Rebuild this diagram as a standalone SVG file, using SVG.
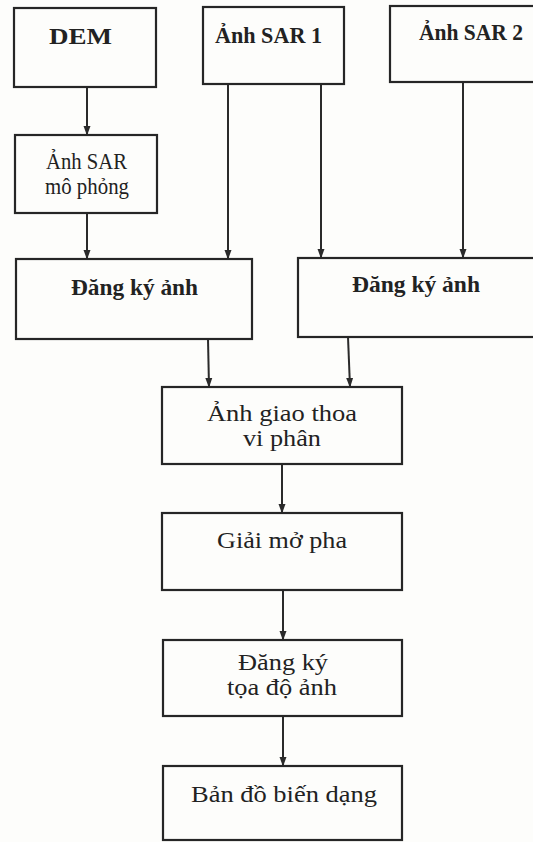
<svg xmlns="http://www.w3.org/2000/svg" width="533" height="842" viewBox="0 0 533 842">
<defs>
<style>
.box{fill:#fdfdfb;stroke:#262626;stroke-width:2.2}
.t{font-family:"Liberation Serif","Times New Roman",serif;fill:#222;text-anchor:start}
.b{font-weight:bold;font-size:23px}
.r{font-size:23px}
.c{stroke:#2a2a2a;stroke-width:2;fill:none}
</style>
<marker id="arr" markerWidth="10" markerHeight="14" refX="13" refY="5" orient="auto" markerUnits="userSpaceOnUse" viewBox="0 0 14 10">
<path d="M0,0 L14,5 L0,10 Z" fill="#2a2a2a"/>
</marker>
</defs>
<rect width="533" height="842" fill="#fdfdfb"/>
<g id="connectors">
<line class="c" x1="87" y1="87" x2="87" y2="135" marker-end="url(#arr)"/>
<line class="c" x1="87" y1="213" x2="87" y2="259" marker-end="url(#arr)"/>
<line class="c" x1="228" y1="84" x2="228" y2="259" marker-end="url(#arr)"/>
<line class="c" x1="321" y1="84" x2="321" y2="258" marker-end="url(#arr)"/>
<line class="c" x1="463" y1="82" x2="463" y2="258" marker-end="url(#arr)"/>
<line class="c" x1="208" y1="339" x2="209" y2="387" marker-end="url(#arr)"/>
<line class="c" x1="348" y1="337" x2="350" y2="387" marker-end="url(#arr)"/>
<line class="c" x1="282" y1="464" x2="282" y2="513" marker-end="url(#arr)"/>
<line class="c" x1="283" y1="590" x2="283" y2="640" marker-end="url(#arr)"/>
<line class="c" x1="283" y1="716" x2="283" y2="766" marker-end="url(#arr)"/>
</g>
<g id="dem">
<rect class="box" x="14" y="8" width="142" height="79"/>
<text class="t b" x="49" y="44" textLength="63" lengthAdjust="spacingAndGlyphs">DEM</text>
</g>
<g id="sar1">
<rect class="box" x="203" y="7" width="141" height="77"/>
<text class="t b" x="215" y="43" textLength="107" lengthAdjust="spacingAndGlyphs">Ảnh SAR 1</text>
</g>
<g id="sar2">
<rect class="box" x="390" y="6" width="150" height="76"/>
<text class="t b" x="419" y="40" textLength="104" lengthAdjust="spacingAndGlyphs">Ảnh SAR 2</text>
</g>
<g id="sar-mophong">
<rect class="box" x="15" y="135" width="142" height="78"/>
<text class="t r" x="46" y="169" textLength="81" lengthAdjust="spacingAndGlyphs">Ảnh SAR</text>
<text class="t r" x="45" y="194" textLength="84" lengthAdjust="spacingAndGlyphs">mô phỏng</text>
</g>
<g id="dangky1">
<rect class="box" x="16" y="259" width="236" height="80"/>
<text class="t b" x="71" y="295" textLength="127" lengthAdjust="spacingAndGlyphs">Đăng ký ảnh</text>
</g>
<g id="dangky2">
<rect class="box" x="298" y="258" width="242" height="79"/>
<text class="t b" x="352" y="292" textLength="128" lengthAdjust="spacingAndGlyphs">Đăng ký ảnh</text>
</g>
<g id="giaothoa">
<rect class="box" x="162" y="387" width="240" height="77"/>
<text class="t r" x="207" y="421" textLength="150" lengthAdjust="spacingAndGlyphs">Ảnh giao thoa</text>
<text class="t r" x="243" y="446" textLength="78" lengthAdjust="spacingAndGlyphs">vi phân</text>
</g>
<g id="giaimopha">
<rect class="box" x="162" y="513" width="240" height="77"/>
<text class="t r" x="217" y="548" textLength="130" lengthAdjust="spacingAndGlyphs">Giải mở pha</text>
</g>
<g id="dangkytoado">
<rect class="box" x="163" y="640" width="239" height="76"/>
<text class="t r" x="238" y="670" textLength="90" lengthAdjust="spacingAndGlyphs">Đăng ký</text>
<text class="t r" x="227" y="695" textLength="110" lengthAdjust="spacingAndGlyphs">tọa độ ảnh</text>
</g>
<g id="bando">
<rect class="box" x="163" y="766" width="239" height="74"/>
<text class="t r" x="191" y="802" textLength="186" lengthAdjust="spacingAndGlyphs">Bản đồ biến dạng</text>
</g>
</svg>
